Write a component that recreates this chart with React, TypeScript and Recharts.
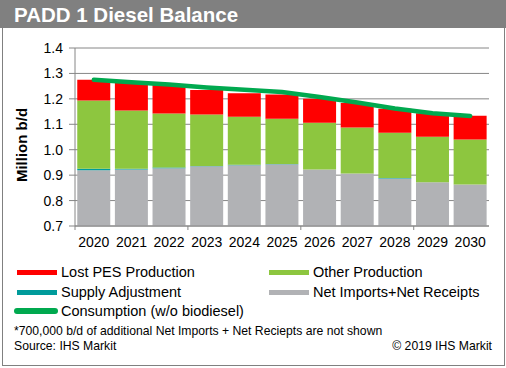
import { ComposedChart, Bar, Line, XAxis, YAxis, CartesianGrid } from "recharts";

const YEARS = ["2020", "2021", "2022", "2023", "2024", "2025", "2026", "2027", "2028", "2029", "2030"];
// Million b/d, stacked bottom to top
const NET_IMPORTS = [0.919, 0.922, 0.927, 0.935, 0.939, 0.943, 0.922, 0.906, 0.887, 0.872, 0.863];
const SUPPLY_ADJ = [0.006, 0.003, 0.003, 0.001, 0.002, 0.001, 0.0, 0.0, 0.002, 0.0, 0.0];
const OTHER_PROD = [0.269, 0.229, 0.212, 0.202, 0.189, 0.178, 0.184, 0.181, 0.178, 0.179, 0.177];
const LOST_PES = [0.081, 0.108, 0.113, 0.097, 0.092, 0.095, 0.094, 0.097, 0.094, 0.092, 0.094];
const CONSUMPTION = [1.275, 1.265, 1.256, 1.245, 1.236, 1.227, 1.207, 1.186, 1.162, 1.143, 1.133];
const Y_TICKS = [0.7, 0.8, 0.9, 1.0, 1.1, 1.2, 1.3, 1.4];

const RED = "#ff0000";
const GREEN = "#8dc63f";
const TEAL = "#009b9b";
const GRAY = "#b1b2b5";
const LINE = "#00a94f";
const AXIS = "#868686";
const FONT = "'Liberation Sans', Arial, sans-serif";

const data = YEARS.map((year, i) => ({
  year,
  netImports: NET_IMPORTS[i],
  supplyAdj: SUPPLY_ADJ[i],
  otherProd: OTHER_PROD[i],
  lostPes: LOST_PES[i],
  consumption: CONSUMPTION[i],
}));

// year label, plus a small tick mark at the left edge of every third category
function YearTick(props: any) {
  const { x, y, payload, index } = props;
  const left = x - (payload.offset || 0);
  return (
    <g>
      {index % 3 === 0 && <line x1={left} x2={left} y1={y - 6} y2={y - 2} stroke={AXIS} />}
      <text x={x} y={y + 15} textAnchor="middle" fill="#000" fontSize={14} fontFamily={FONT}>
        {payload.value}
      </text>
    </g>
  );
}

function LegendItem({ x, y, color, label, line }: { x: number; y: number; color: string; label: string; line?: boolean }) {
  return (
    <div style={{ position: "absolute", left: x, top: y - 9, height: 18, display: "flex", alignItems: "center" }}>
      <div
        style={{
          width: line ? 44 : 40,
          height: line ? 6 : 5,
          background: color,
          borderRadius: line ? 3 : 0,
          marginRight: line ? 3 : 4,
        }}
      />
      <span style={{ fontSize: 14.5, color: "#000" }}>{label}</span>
    </div>
  );
}

export default function App() {
  return (
    <div style={{ position: "absolute", left: 0, top: 0, width: 506, height: 368, background: "#fff", fontFamily: FONT }}>
      <div style={{ position: "absolute", left: 0, top: 0, width: 506, height: 28, background: "#808080" }}>
        <div style={{ position: "absolute", left: 14, top: 3, color: "#fff", fontWeight: "bold", fontSize: 20.5, lineHeight: "23px" }}>
          PADD 1 Diesel Balance
        </div>
      </div>
      <div
        style={{
          position: "absolute",
          left: 2,
          top: 28,
          width: 501,
          height: 337,
          border: "1px solid #808080",
          borderTop: "none",
        }}
      />
      <div
        style={{
          position: "absolute",
          left: 22,
          top: 145,
          transform: "translate(-50%, -50%) rotate(-90deg)",
          fontWeight: "bold",
          fontSize: 15,
          whiteSpace: "nowrap",
          lineHeight: "18px",
        }}
      >
        Million b/d
      </div>
      <div style={{ position: "absolute", left: 0, top: 0 }}>
        <ComposedChart
          width={506}
          height={262}
          data={data}
          margin={{ top: 48, right: 17, left: 0, bottom: 6 }}
          barCategoryGap="6%"
        >
          <CartesianGrid vertical={false} stroke={AXIS} />
          <XAxis
            dataKey="year"
            height={30}
            tickLine={false}
            tickSize={6}
            tickMargin={0}
            axisLine={{ stroke: AXIS }}
            tick={<YearTick />}
            interval={0}
          />
          <YAxis
            width={75}
            domain={[0.7, 1.4]}
            ticks={Y_TICKS}
            allowDataOverflow
            tickFormatter={(v: number) => v.toFixed(1)}
            tickSize={6}
            tickMargin={6}
            axisLine={{ stroke: AXIS }}
            tickLine={{ stroke: AXIS }}
            tick={{ fill: "#000", fontSize: 14, fontFamily: FONT }}
          />
          <Bar dataKey="netImports" stackId="s" fill={GRAY} isAnimationActive={false} />
          <Bar dataKey="supplyAdj" stackId="s" fill={TEAL} isAnimationActive={false} />
          <Bar dataKey="otherProd" stackId="s" fill={GREEN} isAnimationActive={false} />
          <Bar dataKey="lostPes" stackId="s" fill={RED} isAnimationActive={false} />
          <Line
            dataKey="consumption"
            type="linear"
            stroke={LINE}
            strokeWidth={4.5}
            strokeLinecap="round"
            dot={false}
            isAnimationActive={false}
          />
        </ComposedChart>
      </div>
      <LegendItem x={17} y={272} color={RED} label="Lost PES Production" />
      <LegendItem x={269} y={272} color={GREEN} label="Other Production" />
      <LegendItem x={17} y={292} color={TEAL} label="Supply Adjustment" />
      <LegendItem x={269} y={292} color={GRAY} label="Net Imports+Net Receipts" />
      <LegendItem x={14} y={311} color={LINE} label="Consumption (w/o biodiesel)" line />
      <div style={{ position: "absolute", left: 14, top: 324, fontSize: 12.2, lineHeight: "15px" }}>
        *700,000 b/d of additional Net Imports + Net Reciepts are not shown
      </div>
      <div style={{ position: "absolute", left: 14, top: 339, fontSize: 12.2, lineHeight: "15px" }}>Source: IHS Markit</div>
      <div style={{ position: "absolute", right: 14, top: 339, fontSize: 12.2, lineHeight: "15px" }}>© 2019 IHS Markit</div>
    </div>
  );
}
